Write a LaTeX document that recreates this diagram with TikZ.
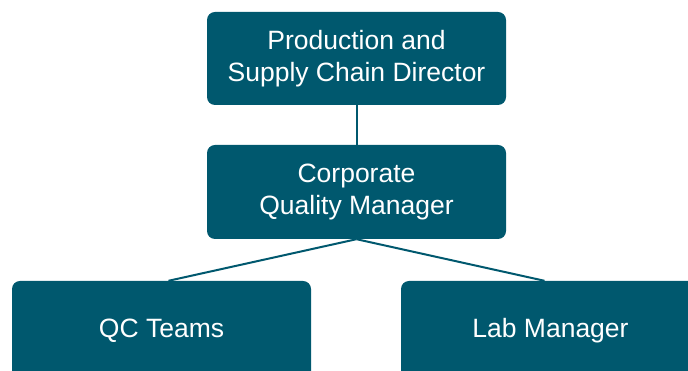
\documentclass[tikz,border=0pt]{standalone}
\usepackage{fontspec}
\setmainfont{Liberation Sans}
\definecolor{boxteal}{HTML}{00586E}
\begin{document}
\begin{tikzpicture}
	[x=1pt,y=1pt,
	 box/.style={rectangle,rounded corners=8pt,fill=boxteal,text=white,minimum width=299pt,align=center,font=\fontsize{26.5}{32}\selectfont},
	 link/.style={draw=boxteal,line width=2pt}]
    \useasboundingbox (0,0) rectangle (688,371);
    \clip (0,0) rectangle (688,371);
    \node[box,minimum height=93pt] (dir) at (356.5,312.5) {Production and\\Supply Chain Director};
    \node[box,minimum height=94pt] (qm) at (356.5,179) {Corporate\\Quality Manager};
    \node[box,minimum height=100pt] (qc) at (161.5,40) {QC Teams};
    \node[box,minimum height=100pt] (lab) at (550.5,40) {Lab Manager};
    \draw [link] (dir) -- (qm);
    \draw [link] (qm.south) -- ([xshift=7pt]qc.north);
    \draw [link] (qm.south) -- ([xshift=-6pt]lab.north);
\end{tikzpicture}
\end{document}
